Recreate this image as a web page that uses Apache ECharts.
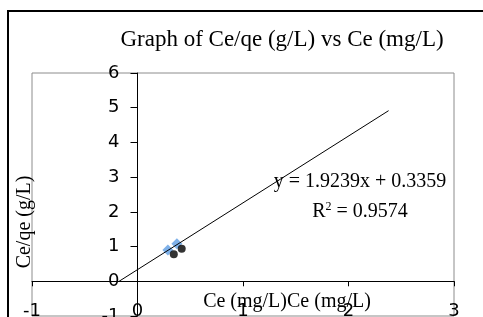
<!DOCTYPE html>
<html>
<head>
<meta charset="utf-8">
<script src="https://cdn.jsdelivr.net/npm/echarts@6/dist/echarts.min.js"></script>
<style>
  html, body { margin: 0; padding: 0; background: #fff; }
  #chart { width: 483px; height: 317px; }
</style>
</head>
<body>
<div id="chart"></div>
<script>
// measured points (Ce in mg/L, Ce/qe in g/L)
const blueX = [0.288, 0.373];
const blueY = [0.90, 1.08];
const blackX = [0.344, 0.419];
const blackY = [0.78, 0.94];

// linear trendline from the chart
const slope = 1.9239;
const intercept = 0.3359;
const trendX = [-intercept / slope, 2.38];

const xTicks = [-1, 0, 1, 2, 3];
const yTicks = [-1, 0, 1, 2, 3, 4, 5, 6];

const serif = "'Liberation Serif', 'Times New Roman', serif";
const sans = "'DejaVu Sans', Verdana, sans-serif";

const chart = echarts.init(document.getElementById("chart"));

// axes cross at zero: shift them from the grid edge to the zero position
const gridLeft = 32, gridTop = 73, gridRight = 29, gridBottom = 1;
const plotW = 483 - gridLeft - gridRight;
const plotH = 317 - gridTop - gridBottom;
const yAxisShift = plotW * (0 - xTicks[0]) / (xTicks[xTicks.length - 1] - xTicks[0]);
const xAxisShift = plotH * (0 - yTicks[0]) / (yTicks[yTicks.length - 1] - yTicks[0]);

const option = {
  animation: false,
  grid: {
    left: gridLeft,
    top: gridTop,
    right: gridRight,
    bottom: gridBottom,
    outerBoundsMode: "none",
    containLabel: false,
    show: true,
    borderColor: "#8c8c8c",
    borderWidth: 1,
  },
  xAxis: {
    type: "value",
    min: xTicks[0],
    max: xTicks[xTicks.length - 1],
    interval: 1,
    offset: -xAxisShift,
    splitLine: { show: false },
    axisLine: { onZero: false, lineStyle: { color: "#000", width: 1 } },
    axisTick: { show: true, inside: false, length: 5, lineStyle: { color: "#000" } },
    axisLabel: {
      margin: 21,
      color: "#000",
      fontFamily: sans,
      fontSize: 18,
      showMinLabel: true,
      showMaxLabel: true,
    },
  },
  yAxis: {
    type: "value",
    min: yTicks[0],
    max: yTicks[yTicks.length - 1],
    interval: 1,
    offset: -yAxisShift,
    splitLine: { show: false },
    axisLine: { onZero: false, lineStyle: { color: "#000", width: 1 } },
    axisTick: { show: true, length: 7, lineStyle: { color: "#000" } },
    axisLabel: {
      margin: 18,
      color: "#000",
      fontFamily: sans,
      fontSize: 18,
      showMinLabel: true,
      showMaxLabel: true,
    },
  },
  series: [
    {
      type: "scatter",
      symbol: "diamond",
      symbolSize: 11,
      itemStyle: { color: "#5f9ee3" },
      data: blueX.map((x, i) => [x, blueY[i]]),
      z: 2,
    },
    {
      type: "scatter",
      symbol: "circle",
      symbolSize: 8,
      itemStyle: { color: "#000" },
      data: blackX.map((x, i) => [x, blackY[i]]),
      z: 3,
    },
    {
      type: "line",
      symbol: "none",
      lineStyle: { color: "#000", width: 1 },
      data: trendX.map((x) => [x, slope * x + intercept]),
      z: 4,
    },
  ],
  graphic: [
    {
      type: "rect",
      shape: { x: 8, y: 11, width: 500, height: 330 },
      style: { fill: "none", stroke: "#000", lineWidth: 2 },
      silent: true,
    },
    {
      type: "text",
      x: 282,
      y: 40,
      style: { text: "Graph of Ce/qe (g/L) vs Ce (mg/L)", font: "23px " + serif, fill: "#000", align: "center", verticalAlign: "middle" },
    },
    {
      type: "text",
      x: 287,
      y: 302,
      style: { text: "Ce (mg/L)Ce (mg/L)", font: "20px " + serif, fill: "#000", align: "center", verticalAlign: "middle" },
    },
    {
      type: "text",
      x: 25,
      y: 222,
      rotation: Math.PI / 2,
      style: { text: "Ce/qe (g/L)", font: "20px " + serif, fill: "#000", align: "center", verticalAlign: "middle" },
    },
    {
      type: "text",
      x: 360,
      y: 182,
      style: { text: "y = " + slope.toFixed(4) + "x + " + intercept.toFixed(4), font: "20px " + serif, fill: "#000", align: "center", verticalAlign: "middle" },
    },
    {
      type: "text",
      x: 360,
      y: 212,
      style: {
        text: "R{sup|2} = 0.9574",
        font: "20px " + serif,
        fill: "#000",
        align: "center",
        verticalAlign: "middle",
        rich: { sup: { fontSize: 12, fontFamily: serif, verticalAlign: "top", padding: [0, 0, 10, 0] } },
      },
    },
  ],
};

chart.setOption(option);
</script>
</body>
</html>
